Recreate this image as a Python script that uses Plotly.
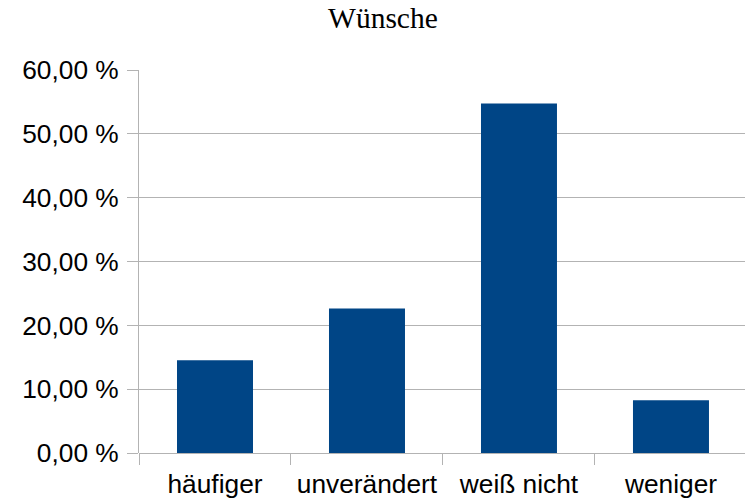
import plotly.graph_objects as go

categories = ["häufiger", "unverändert", "weiß nicht", "weniger"]
values = [14.52, 22.62, 54.77, 8.26]
y_ticks = [0, 10, 20, 30, 40, 50, 60]
y_tick_labels = ["0,00 %", "10,00 %", "20,00 %", "30,00 %", "40,00 %", "50,00 %", "60,00 %"]

fig = go.Figure(go.Bar(x=categories, y=values, marker=dict(color="#004586", line=dict(width=0)), width=0.5))

grid = "#b3b3b3"
fs = 26.3
fig.update_layout(
    width=745, height=504,
    margin=dict(l=139, r=0, t=70, b=51),
    paper_bgcolor="white", plot_bgcolor="white",
    showlegend=False,
    title=dict(text="Wünsche", x=0.514, xanchor="center", y=1 - 17.5 / 504, yanchor="middle", yref="container",
               font=dict(family="Liberation Serif", size=29.5, color="black")),
    font=dict(family="Liberation Sans", size=fs, color="black"),
)
fig.update_xaxes(
    type="category", range=[-0.5, 3.487], tickson="boundaries",
    ticks="outside", ticklen=11, tickcolor=grid, tickwidth=1,
    showline=False, showgrid=False, zeroline=False, automargin=False,
    tickfont=dict(family="Liberation Sans", size=fs, color="black"),
    ticklabelstandoff=13,
)
fig.update_yaxes(
    range=[0, 60], tickvals=y_ticks, ticktext=y_tick_labels,
    ticks="outside", ticklen=11, tickcolor=grid, tickwidth=1,
    showline=True, linecolor=grid, linewidth=1,
    showgrid=True, gridcolor=grid, gridwidth=1,
    zeroline=True, zerolinecolor=grid, zerolinewidth=1, automargin=False,
    tickfont=dict(family="Liberation Sans", size=fs, color="black"),
    ticklabelstandoff=3,
)

fig.write_html("out.html", config={"displayModeBar": False},
               post_script="document.body.style.margin='0';document.body.style.overflow='hidden';")
